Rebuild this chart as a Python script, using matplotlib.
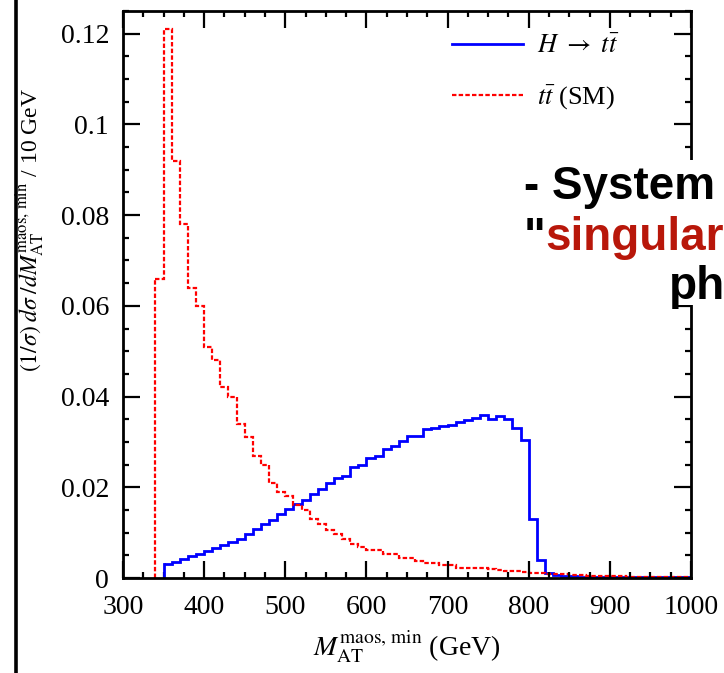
import matplotlib
matplotlib.use("Agg")
import matplotlib.pyplot as plt
import numpy as np
from matplotlib.patches import Rectangle
from matplotlib.lines import Line2D
from matplotlib.ticker import MultipleLocator

# ---- data (bin width 10 GeV) ----
sm_start = 340
sm_values = [0.066, 0.121, 0.092, 0.078, 0.064, 0.060, 0.051, 0.048, 0.042, 0.040,
             0.034, 0.031, 0.027, 0.025, 0.021, 0.019, 0.018, 0.016, 0.015, 0.013,
             0.012, 0.0105, 0.0096, 0.0085, 0.0076, 0.0069, 0.0062, 0.0062, 0.0054, 0.0054,
             0.0043, 0.0043, 0.0038, 0.0032, 0.0032, 0.0029, 0.0029, 0.0021, 0.0021, 0.0021,
             0.0021, 0.0019, 0.0017, 0.0015, 0.0016, 0.0013, 0.0012, 0.0012, 0.0009, 0.0008,
             0.0008, 0.0007, 0.0006, 0.0005, 0.0005, 0.0005, 0.0004, 0.0004, 0.0003, 0.0003,
             0.0003, 0.0003, 0.0003, 0.0003, 0.0003, 0.0003]
h_start = 350
h_values = [0.0030, 0.0036, 0.0041, 0.0048, 0.0054, 0.0060, 0.0066, 0.0072, 0.0079, 0.0087,
            0.0096, 0.0107, 0.0118, 0.0128, 0.0140, 0.0152, 0.0163, 0.0172, 0.0185, 0.0196,
            0.0210, 0.0220, 0.0225, 0.0245, 0.0249, 0.0265, 0.0269, 0.0284, 0.0290, 0.0301,
            0.0314, 0.0314, 0.0328, 0.0331, 0.0335, 0.0338, 0.0345, 0.0348, 0.0353, 0.0359,
            0.0351, 0.0357, 0.0351, 0.0331, 0.0304, 0.0131, 0.0039, 0.0012, 0.0006, 0.0004,
            0.0004, 0.0003, 0.0003, 0.0003, 0.0003, 0.0002, 0.0002, 0.0002, 0.0002, 0.0002,
            0.0002, 0.0002, 0.0002, 0.0002, 0.0002]
bin_width = 10
x_ticks = [300, 400, 500, 600, 700, 800, 900, 1000]
y_ticks = [0, 0.02, 0.04, 0.06, 0.08, 0.1, 0.12]
y_tick_labels = ["0", "0.02", "0.04", "0.06", "0.08", "0.1", "0.12"]

sm_edges = sm_start + bin_width * np.arange(len(sm_values) + 1)
h_edges = h_start + bin_width * np.arange(len(h_values) + 1)

plt.rcParams['font.family'] = ['Liberation Serif', 'DejaVu Serif']
plt.rcParams['mathtext.fontset'] = 'stix'

W, H = 724, 673
fig = plt.figure(figsize=(W / 100, H / 100), dpi=100)
ax = fig.add_axes([123 / W, 1 - 578 / H, (691 - 123) / W, (578 - 11) / H])

blue_lw, red_lw = 2.0, 1.6
ax.stairs(h_values, h_edges, color='#0000ff', lw=blue_lw, label=r'$H\ \to\ t\bar{t}$', baseline=None)
ax.stairs(sm_values, sm_edges, color='#ff0000', lw=red_lw, ls=(0, (2, 1)), label=r'$t\bar{t}$ (SM)', baseline=None)
ax.plot([sm_edges[0], sm_edges[0]], [0, sm_values[0]], color='#ff0000', lw=red_lw, ls=(0, (2, 1)))
ax.plot([h_edges[0], h_edges[0]], [0, h_values[0]], color='#0000ff', lw=blue_lw)

ax.set_xlim(300, 1000)
ax.set_ylim(0, 0.125)
ax.set_xticks(x_ticks)
ax.set_xticklabels([str(t) for t in x_ticks])
ax.set_yticks(y_ticks)
ax.set_yticklabels(y_tick_labels)
ax.xaxis.set_minor_locator(MultipleLocator(25))
ax.yaxis.set_minor_locator(MultipleLocator(0.005))
ax.tick_params(which='both', direction='in', top=True, right=True, width=1.6, labelsize=20)
ax.tick_params(which='major', length=12)
ax.tick_params(which='minor', length=4)
ax.tick_params(axis='y', pad=10)
ax.tick_params(axis='x', pad=12)
for s in ax.spines.values():
    s.set_linewidth(2.0)

ax.set_xlabel(r'$M_{\mathrm{AT}}^{\mathrm{maos,\,min}}$ (GeV)', fontsize=20, labelpad=6)

fig.text(30 / W, 1 - 230 / H,
         r'$(1/\sigma)\;d\sigma\;/dM_{\mathrm{AT}}^{\mathrm{maos,\,min}}$ / 10 GeV',
         rotation=90, ha='center', va='center', fontsize=17)

leg = ax.legend(loc='upper right', bbox_to_anchor=(0.915, 1.0), frameon=False, fontsize=19,
                handlelength=2.7, handletextpad=0.5, labelspacing=0.95)

# slide overlay
fig.patches.append(Rectangle((515 / W, 1 - 305 / H), (W - 515) / W, 145 / H,
                             transform=fig.transFigure, facecolor='white', edgecolor='none', zorder=5))
fig.add_artist(Line2D([16 / W, 16 / W], [0, 1], color='black', lw=2.6, transform=fig.transFigure))

sans = ['Liberation Sans', 'DejaVu Sans']
fs_slide = 33
fig.text(524 / W, 1 - 199 / H, '- System', fontsize=fs_slide, fontweight='bold', family=sans,
         color='black', ha='left', va='baseline', zorder=6)
fig.text(524 / W, 1 - 250 / H, '"', fontsize=fs_slide, fontweight='bold', family=sans,
         color='black', ha='left', va='baseline', zorder=6)
fig.text(545 / W, 1 - 250 / H, 'singular', fontsize=fs_slide, fontweight='bold', family=sans,
         color='#b8170a', ha='left', va='baseline', zorder=6)
fig.text(669 / W, 1 - 299 / H, 'ph', fontsize=fs_slide, fontweight='bold', family=sans,
         color='black', ha='left', va='baseline', zorder=6)

fig.savefig('out.png', dpi=100)
